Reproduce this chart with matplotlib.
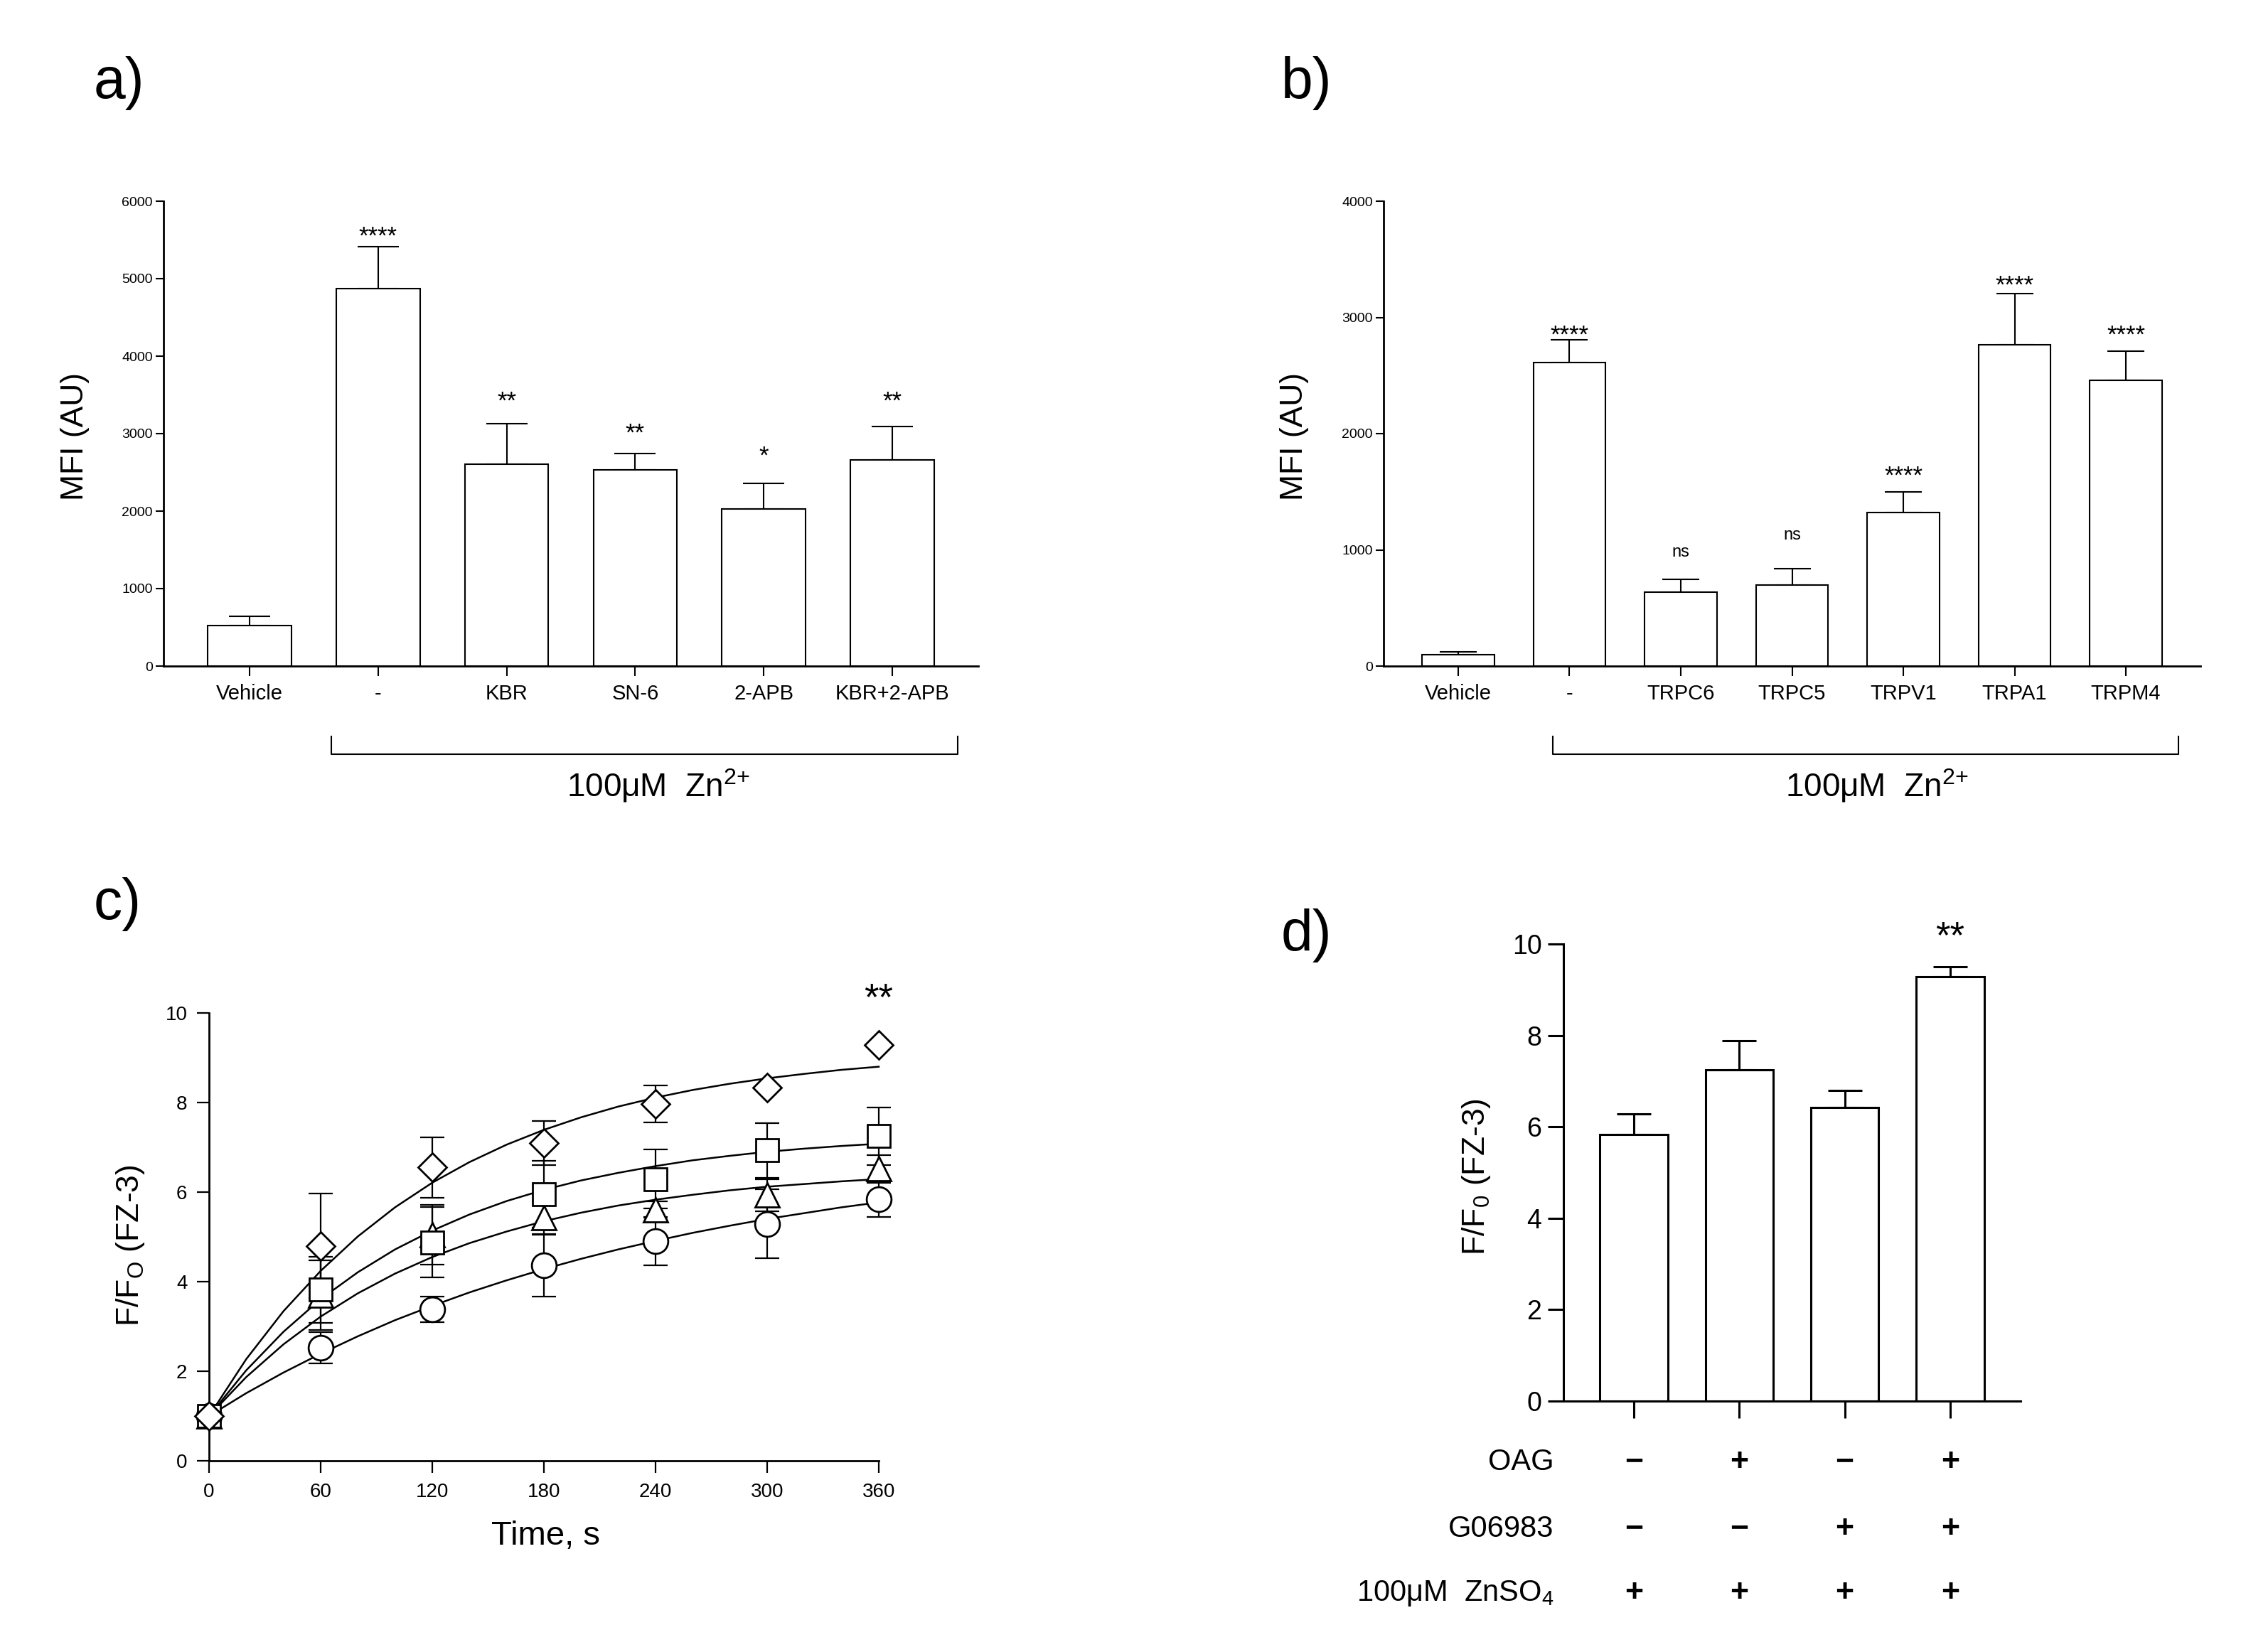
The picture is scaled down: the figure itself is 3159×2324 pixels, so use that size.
import numpy as np
import matplotlib.pyplot as plt

plt.rcParams['font.family'] = ['Liberation Sans', 'DejaVu Sans']
NARROW = ['Liberation Sans Narrow', 'Liberation Sans', 'DejaVu Sans']
REG = ['Liberation Sans', 'DejaVu Sans']

# === a) MFI, inhibitors ===
a_labels = ['Vehicle', '-', 'KBR', 'SN-6', '2-APB', 'KBR+2-APB']
a_mean = [520, 4870, 2610, 2530, 2030, 2660]
a_sem = [120, 540, 520, 210, 330, 430]
a_stars = ['', '****', '**', '**', '*', '**']
a_star_y = [0, 5640, 3510, 3100, 2800, 3510]

# === b) MFI, TRP channels ===
b_labels = ['Vehicle', '-', 'TRPC6', 'TRPC5', 'TRPV1', 'TRPA1', 'TRPM4']
b_mean = [100, 2610, 635, 700, 1320, 2765, 2460]
b_sem = [20, 200, 110, 140, 180, 440, 250]
b_stars = ['', '****', 'ns', 'ns', '****', '****', '****']
b_star_y = [0, 2910, 980, 1125, 1700, 3335, 2910]

# === c) time course ===
c_time = [0, 60, 120, 180, 240, 300, 360]
c_circle = [1.0, 2.52, 3.38, 4.36, 4.90, 5.29, 5.84]
c_circle_sem = [0.10, 0.35, 0.28, 0.69, 0.54, 0.77, 0.39]
c_triangle = [1.0, 3.70, 5.05, 5.43, 5.61, 5.93, 6.52]
c_triangle_sem = [0.10, 0.78, 0.67, 0.37, 0.18, 0.36, 0.31]
c_square = [1.0, 3.82, 4.88, 5.95, 6.29, 6.93, 7.25]
c_square_sem = [0.10, 0.74, 0.78, 0.75, 0.66, 0.61, 0.64]
c_diamond = [1.0, 4.80, 6.55, 7.09, 7.97, 8.33, 9.29]
c_diamond_sem = [0.10, 1.17, 0.68, 0.49, 0.41, 0.0, 0.0]

# fitted curves every 20 s
fit_time = [0, 20, 40, 60, 80, 100, 120, 140, 160, 180, 200, 220, 240, 260, 280, 300, 320, 340, 360]
fit_circle = [1.0, 1.51, 1.97, 2.39, 2.78, 3.14, 3.46, 3.76, 4.03, 4.28, 4.51, 4.72, 4.91, 5.09, 5.25, 5.40, 5.53, 5.66, 5.77]
fit_triangle = [1.0, 1.87, 2.60, 3.22, 3.74, 4.18, 4.55, 4.86, 5.12, 5.35, 5.54, 5.70, 5.83, 5.94, 6.04, 6.12, 6.18, 6.24, 6.29]
fit_square = [1.0, 2.02, 2.88, 3.61, 4.21, 4.72, 5.14, 5.50, 5.80, 6.05, 6.26, 6.43, 6.58, 6.71, 6.81, 6.90, 6.97, 7.03, 7.08]
fit_diamond = [1.0, 2.27, 3.34, 4.24, 5.01, 5.66, 6.21, 6.67, 7.06, 7.39, 7.67, 7.91, 8.11, 8.28, 8.42, 8.54, 8.64, 8.73, 8.80]

# === d) OAG / G06983 ===
d_mean = [5.83, 7.24, 6.43, 9.28]
d_sem = [0.46, 0.65, 0.36, 0.22]
d_row_labels = ['OAG', 'G06983', '100μM  ZnSO$\\mathregular{_4}$']
d_oag = ['−', '+', '−', '+']
d_g06983 = ['−', '−', '+', '+']
d_zn = ['+', '+', '+', '+']
d_star = '**'

W, H = 3159, 2324
fig = plt.figure(figsize=(W / 100, H / 100), dpi=100)


def px_axes(l, t, r, b):
    return fig.add_axes([l / W, 1 - b / H, (r - l) / W, (b - t) / H])


def bar_panel(ax, labels, mean, sem, stars, star_y, ymax, ystep, capsize,
              bracket, label_x):
    x = np.arange(len(labels))
    ax.bar(x, mean, width=0.65, color='white', edgecolor='black', linewidth=1.5, zorder=2)
    ax.errorbar(x, mean, yerr=[np.zeros(len(sem)), sem], fmt='none', ecolor='black',
                elinewidth=1.5, capsize=capsize, capthick=1.5, zorder=1)
    for xi, s, sy in zip(x, stars, star_y):
        if not s:
            continue
        fs = 17 if s == 'ns' else 25
        off = -0.27 * fs if s == 'ns' else -0.58 * fs
        ax.annotate(s, (xi, sy), xytext=(0, off), textcoords='offset points',
                    ha='center', va='baseline', fontsize=fs, family=NARROW)
    ax.set_xlim(-0.67, len(labels) - 0.33)
    ax.set_ylim(0, ymax)
    ax.set_yticks(np.arange(0, ymax + 1, ystep))
    ax.set_xticks(x)
    ax.set_xticklabels(labels, family=NARROW, fontsize=21)
    for t in ax.get_yticklabels():
        t.set_family(NARROW)
        t.set_fontsize(14)
    ax.spines['top'].set_visible(False)
    ax.spines['right'].set_visible(False)
    for sp in ('left', 'bottom'):
        ax.spines[sp].set_linewidth(2)
    ax.tick_params(axis='y', length=8, width=1.5, pad=3)
    ax.tick_params(axis='x', length=10, width=1.5, pad=8)
    ax.text(-0.109, 0.494, 'MFI (AU)', rotation=90,
            ha='center', va='center', fontsize=32, family=REG, transform=ax.transAxes)
    tr = ax.get_xaxis_transform()
    x0, x1 = bracket
    ax.plot([x0, x0, x1, x1], [-0.151, -0.19, -0.19, -0.151], color='black', lw=1.5,
            transform=tr, clip_on=False)
    ax.text(label_x, -0.257, '100μM  Zn$\\mathregular{^{2{+}}}$', ha='center', va='center',
            fontsize=33, family=NARROW, transform=tr)


ax_a = px_axes(230, 283, 1376, 937)
bar_panel(ax_a, a_labels, a_mean, a_sem, a_stars, a_star_y, 6000, 1000, 21,
          (0.635, 5.51), 3.18)

ax_b = px_axes(1946, 283, 3095, 937)
bar_panel(ax_b, b_labels, b_mean, b_sem, b_stars, b_star_y, 4000, 1000, 19,
          (0.85, 6.47), 3.76)

# === c) ===
ax_c = px_axes(294, 1425, 1236, 2055)
series = [
    (c_circle, c_circle_sem, fit_circle, 'o', 25),
    (c_triangle, c_triangle_sem, fit_triangle, '^', 25),
    (c_square, c_square_sem, fit_square, 's', 23),
    (c_diamond, c_diamond_sem, fit_diamond, 'D', 20),
]
for vals, sem, fit, mk, ms in series:
    ax_c.plot(fit_time, fit, color='black', lw=1.8, zorder=2, clip_on=False)
    ax_c.errorbar(c_time, vals, yerr=sem, fmt='none', ecolor='black', elinewidth=1.6,
                  capsize=12, capthick=1.6, zorder=3, clip_on=False)
    ax_c.plot(c_time, vals, linestyle='none', marker=mk, markersize=ms,
              markerfacecolor='white', markeredgecolor='black', markeredgewidth=2,
              zorder=4, clip_on=False)
ax_c.annotate('**', (360, 10.57), xytext=(0, -0.58 * 38), textcoords='offset points',
              ha='center', va='baseline', fontsize=38, family=REG, annotation_clip=False)
ax_c.set_xlim(0, 360)
ax_c.set_ylim(0, 10)
ax_c.set_xticks(c_time)
ax_c.set_yticks([0, 2, 4, 6, 8, 10])
for t in ax_c.get_xticklabels() + ax_c.get_yticklabels():
    t.set_family(NARROW)
    t.set_fontsize(20)
ax_c.spines['top'].set_visible(False)
ax_c.spines['right'].set_visible(False)
for sp in ('left', 'bottom'):
    ax_c.spines[sp].set_linewidth(2)
ax_c.tick_params(axis='both', length=12, width=1.6, pad=10)
ax_c.text(-0.117, 0.481, 'F/F$\\mathregular{_O}$ (FZ-3)', rotation=90, ha='center',
          va='center', fontsize=32, family=REG, transform=ax_c.transAxes)
ax_c.text(0.503, -0.168, 'Time, s', ha='center', va='center', fontsize=34,
          family=NARROW, transform=ax_c.transAxes)

# === d) ===
ax_d = px_axes(2199, 1328, 2842, 1971)
xd = np.arange(len(d_mean))
ax_d.bar(xd, d_mean, width=0.645, color='white', edgecolor='black', linewidth=2.2, zorder=2)
ax_d.errorbar(xd, d_mean, yerr=[np.zeros(len(d_sem)), d_sem], fmt='none', ecolor='black',
              elinewidth=2.2, capsize=17, capthick=2.2, zorder=1)
ax_d.annotate(d_star, (xd[-1], 10.39), xytext=(0, -0.58 * 38), textcoords='offset points',
              ha='center', va='baseline', fontsize=38, family=REG, annotation_clip=False)
ax_d.set_xlim(-0.67, len(d_mean) - 0.33)
ax_d.set_ylim(0, 10)
ax_d.set_yticks([0, 2, 4, 6, 8, 10])
ax_d.set_xticks(xd)
ax_d.set_xticklabels([''] * len(xd))
for t in ax_d.get_yticklabels():
    t.set_fontsize(27)
ax_d.spines['top'].set_visible(False)
ax_d.spines['right'].set_visible(False)
for sp in ('left', 'bottom'):
    ax_d.spines[sp].set_linewidth(2.2)
ax_d.tick_params(axis='y', length=16, width=2.2, pad=6)
ax_d.tick_params(axis='x', length=17, width=2.2)
ax_d.text(-0.191, 0.491, 'F/F$\\mathregular{_0}$ (FZ-3)', rotation=90, ha='center',
          va='center', fontsize=32, transform=ax_d.transAxes)
tr_d = ax_d.get_xaxis_transform()
for row_y, label, signs in zip([-0.134, -0.280, -0.420], d_row_labels,
                               [d_oag, d_g06983, d_zn]):
    ax_d.text(-0.76, row_y, label, ha='right', va='center', fontsize=30, transform=tr_d)
    for xi, s in zip(xd, signs):
        ax_d.text(xi, row_y, s, ha='center', va='center', fontsize=32,
                  fontweight='bold', transform=tr_d)

# panel letters
for lab, (px, py) in zip(['a)', 'b)', 'c)', 'd)'],
                         [(132, 117), (1802, 117), (132, 1272), (1802, 1316)]):
    fig.text(px / W, 1 - py / H, lab, ha='left', va='center', fontsize=58)

fig.savefig('out.png', dpi=100)
